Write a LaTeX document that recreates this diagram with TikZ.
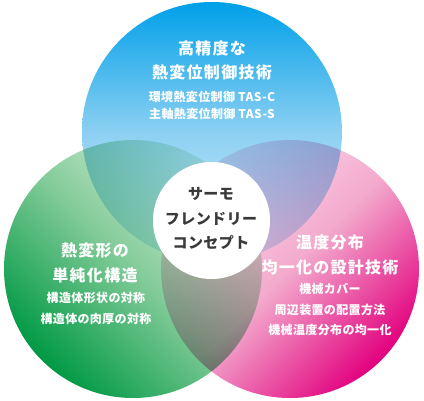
\documentclass[tikz,border=0pt]{standalone}
\usepackage{fontspec}
\usetikzlibrary{shadings}
\newfontfamily\jp{Noto Sans CJK JP}
\definecolor{bluetop}{HTML}{00A0E9}
\definecolor{bluemid}{HTML}{8CD0F2}
\definecolor{bluebot}{HTML}{D8F0FC}
\definecolor{gDark}{HTML}{009944}
\definecolor{gMid}{HTML}{82CB98}
\definecolor{gLight}{HTML}{E4F3E4}
\definecolor{pLight}{HTML}{FCE0EE}
\definecolor{pMid}{HTML}{F3AACD}
\definecolor{pDark}{HTML}{E2007E}
\definecolor{darktext}{HTML}{3A3A3A}
\tikzset{
  title/.style={text=white, font=\jp\bfseries\fontsize{16}{18}\selectfont\addfontfeatures{LetterSpace=8}, inner sep=0pt},
  sub/.style={text=white, font=\jp\bfseries\fontsize{12}{14}\selectfont\addfontfeatures{LetterSpace=3}, inner sep=0pt},
  center/.style={text=darktext, font=\jp\bfseries\fontsize{15}{17}\selectfont\addfontfeatures{LetterSpace=3}, inner sep=0pt},
}
\begin{document}
\begin{tikzpicture}[x=1pt,y=-1pt]
\useasboundingbox (0,0) rectangle (424,400);
\fill[white] (0,0) rectangle (424,400);
\begin{scope}[blend group=multiply]
  \shade[top color=bluetop, bottom color=bluebot, middle color=bluemid] (212,132) circle (130pt);
  \shade[left color=gDark, right color=gLight, middle color=gMid, shading angle=135] (133,269) circle (129pt);
  \shade[left color=pLight, right color=pDark, middle color=pMid, shading angle=45] (290,269) circle (129pt);
\end{scope}
\fill[white] (211.5,220.5) circle (58.5pt);
% top
\node[title] (t1) at (212,48) {高精度な};
\node[title] (t2) at (212,72) {熱変位制御技術};
\node[sub] (t3) at (212,97) {環境熱変位制御 TAS-C};
\node[sub] (t4) at (212,114) {主軸熱変位制御 TAS-S};
% center
\node[center] (c1) at (211,194) {サーモ};
\node[center] (c2) at (211,219) {フレンドリー};
\node[center] (c3) at (211,243) {コンセプト};
% left
\node[title] (l1) at (95,250) {熱変形の};
\node[title] (l2) at (95,275) {単純化構造};
\node[sub] (l3) at (96,298) {構造体形状の対称};
\node[sub] (l4) at (96,319) {構造体の肉厚の対称};
% right
\node[title] (r1) at (330,242) {温度分布};
\node[title] (r2) at (330,267) {均一化の設計技術};
\node[sub] (r3) at (330,289) {機械カバー};
\node[sub] (r4) at (330,310) {周辺装置の配置方法};
\node[sub] (r5) at (330,330) {機械温度分布の均一化};
\end{tikzpicture}
\end{document}
